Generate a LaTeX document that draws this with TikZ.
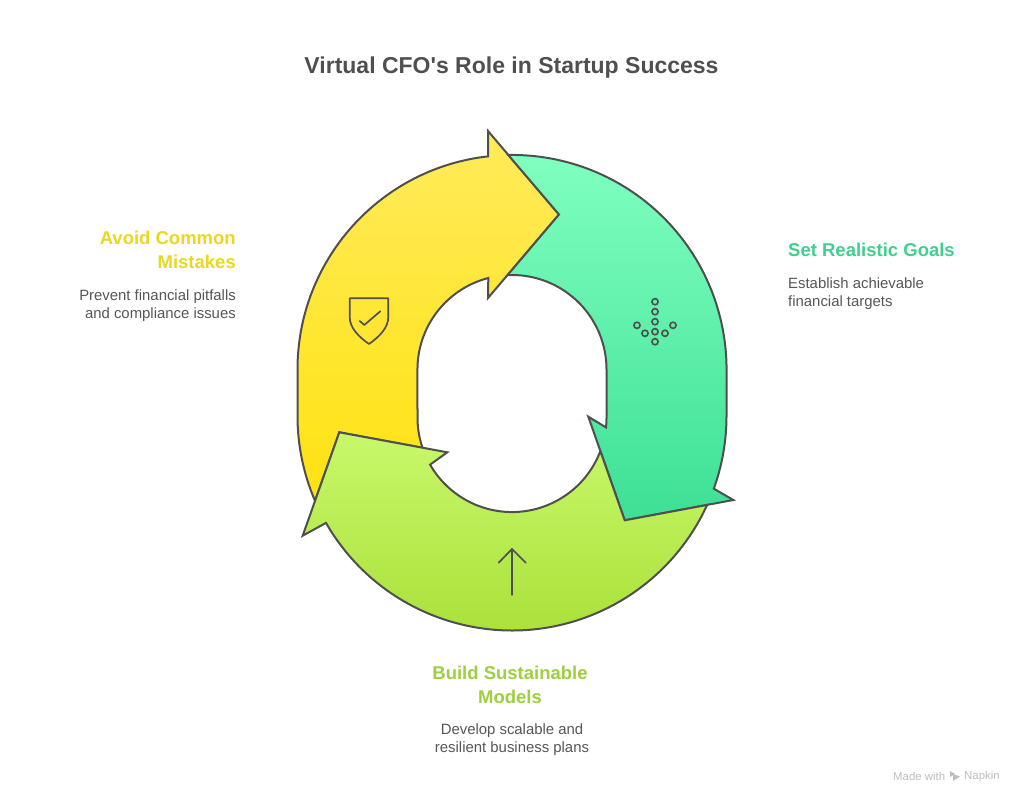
\documentclass[tikz,border=0pt]{standalone}
\usepackage{fontspec}
\setmainfont{Liberation Sans}
\usepackage{tikz}

\definecolor{inkgray}{HTML}{4F4F4F}
\definecolor{textgray}{HTML}{565656}
\definecolor{marktitle}{HTML}{BDBDBD}
\tikzset{
    ringarrow/.style={draw=inkgray, line width=2pt, line join=miter},
    iconline/.style={draw=inkgray, line width=1.7pt, line cap=round, line join=round},
    headtext/.style={inner sep=0pt, font=\fontsize{18.5}{24}\selectfont\bfseries},
    bodytext/.style={inner sep=0pt, text=textgray, font=\fontsize{14.9}{17.5}\selectfont}
}

\begin{document}
\begin{tikzpicture}[x=1pt, y=1pt]
    \useasboundingbox (0,0) rectangle (1024,804);

    % yellow arrow
    \draw[ringarrow, top color={rgb,255:red,255;green,235;blue,92}, bottom color={rgb,255:red,255;green,226;blue,16}]
        (488.1,647.7) -- (488,673) -- (559,589.5) -- (488,506) -- (488.3,526)
        arc[start angle=104.5, end angle=180, radius=94.5] -- (417.5,386.5)
        arc[start angle=180, end angle=198.7, radius=94.5] -- (339.3,371.7) -- (315,303.2)
        arc[start angle=203.3, end angle=180, radius=214.5] -- (297.5,434.5)
        arc[start angle=180, end angle=96.4, radius=214.5] -- cycle;

    % green arrow
    \draw[ringarrow, top color={rgb,255:red,128;green,255;blue,192}, bottom color={rgb,255:red,61;green,224;blue,149}]
        (508.3,649) arc[start angle=91, end angle=0, radius=214.5] -- (726.5,388)
        arc[start angle=0, end angle=-19.8, radius=214.5] -- (733.3,304) -- (624.7,283.7)
        -- (588.3,387.3) -- (606,376.6)
        arc[start angle=-6, end angle=0, radius=94.5] -- (606.5,434.5)
        arc[start angle=0, end angle=92.7, radius=94.5] -- (559,589.5) -- cycle;

    % lime arrow
    \draw[ringarrow, top color={rgb,255:red,200;green,248;blue,107}, bottom color={rgb,255:red,166;green,222;blue,51}]
        (600.35,352.9) arc[start angle=-20.8, end angle=-150.1, radius=94.5]
        -- (447.3,351.7) -- (339.3,371.7) -- (302.7,268.3) -- (326,281.1)
        arc[start angle=-150.1, end angle=-24.5, radius=214.5] -- (624.7,283.7) -- cycle;

    % shield
    \draw[iconline] (349.7,505.7) -- (388.3,505.7) -- (388.3,487)
        .. controls (388.3,476) and (379,467) .. (369,460)
        .. controls (359,467) and (349.7,476) .. (349.7,487) -- cycle;
    \draw[iconline] (359.7,483) -- (364.3,479) -- (380.3,492.7);

    % dots
    \foreach \px/\py in {655/502.3, 655/492.3, 655/482.3, 655/472.3, 655/462.3, 645/470.7, 665/470.7, 637/478.7, 673/478.7} {
        \draw[inkgray, line width=1.6pt] (\px,\py) circle (3.1);
    }

    % up arrow
    \draw[iconline] (512,209) -- (512,255);
    \draw[iconline] (498.7,241.3) -- (512,255) -- (525.7,241.3);

    % title and labels
    \node[inner sep=0pt, text=inkgray, font=\fontsize{23}{28}\selectfont\bfseries] (title) at (511.5,736) {Virtual CFO\textquotesingle s Role in Startup Success};

    \node[headtext, text={rgb,255:red,232;green,216;blue,32}, anchor=east, align=right] (avoidhead) at (236,554.5) {Avoid Common\\Mistakes};
    \node[bodytext, anchor=east, align=right] (avoidbody) at (236,498.5) {Prevent financial pitfalls\\and compliance issues};

    \node[headtext, text={rgb,255:red,63;green,207;blue,142}, anchor=west] (goalshead) at (788,554.5) {Set Realistic Goals};
    \node[bodytext, anchor=west, align=left] (goalsbody) at (788,510.5) {Establish achievable\\financial targets};

    \node[headtext, text={rgb,255:red,159;green,206;blue,63}, align=center] (buildhead) at (510,119) {Build Sustainable\\Models};
    \node[bodytext, align=center] (buildbody) at (512,64.5) {Develop scalable and\\resilient business plans};

    % footer mark
    \node[inner sep=0pt, text=marktitle, font=\fontsize{11.4}{13}\selectfont, anchor=west] (madewith) at (893,27.5) {Made with};
    \node[inner sep=0pt, text=marktitle, font=\fontsize{11.4}{13}\selectfont, anchor=west] (napkin) at (964,27.5) {Napkin};
    \fill[marktitle] (950,33) -- (955,30) -- (950,27) -- cycle;
    \fill[marktitle] (953,30) -- (960,27.5) -- (953,23) -- cycle;
\end{tikzpicture}
\end{document}
